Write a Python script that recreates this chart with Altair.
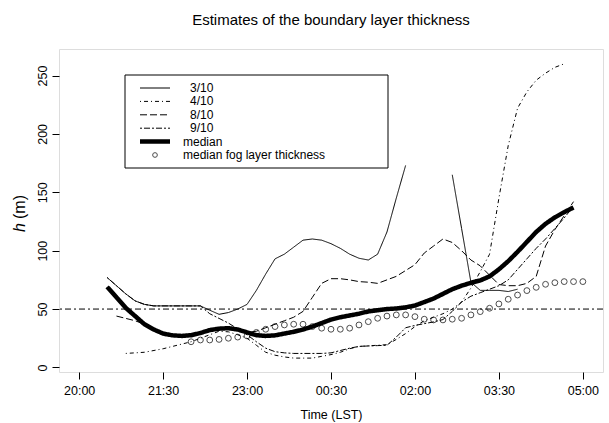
import json
import altair as alt
import pandas as pd

# ---------------- data ----------------
title_text = "Estimates of the boundary layer thickness"
x_title = "Time (LST)"
tick_values = [20, 21.5, 23, 24.5, 26, 27.5, 29]
tick_labels = ["20:00", "21:30", "23:00", "00:30", "02:00", "03:30", "05:00"]
y_ticks = [0, 50, 100, 150, 200, 250]
ref_level = 50
legend_labels = ["3/10", "4/10", "8/10", "9/10", "median", "median fog layer thickness"]

t_3_10_a = ["20:30", "20:40", "20:50", "21:00", "21:10", "21:20", "22:10", "22:20", "22:30", "22:40",
            "22:50", "23:00", "23:10", "23:20", "23:30", "23:40", "23:50", "00:00", "00:10", "00:20",
            "00:30", "00:40", "00:50", "01:00", "01:10", "01:20", "01:30", "01:40", "01:50"]
v_3_10_a = [77, 70, 63, 57, 54, 52.7, 52.7, 49, 45.5, 47,
            50, 54, 66, 80, 93, 97, 103, 109, 110, 109,
            106, 102, 97, 93.5, 92, 97, 116, 145, 173]
t_3_10_b = ["02:40", "02:50", "03:00", "03:10", "03:20", "03:30", "03:40", "03:50"]
v_3_10_b = [165, 119, 73, 66, 66, 66, 65, 67]

t_4_10 = ["20:50", "21:10", "21:30", "21:40", "21:50", "22:00", "22:10", "22:20", "22:30", "22:40",
          "22:50", "23:00", "23:10", "23:20", "23:30", "23:40", "23:50", "00:00", "00:10", "00:20",
          "00:30", "00:40", "00:50", "01:00", "01:10", "01:20", "01:30", "01:40", "01:50", "02:00",
          "02:10", "02:20", "02:30", "02:40", "02:50", "03:00", "03:10", "03:20", "03:30", "03:40",
          "03:50", "04:00", "04:10", "04:20", "04:30", "04:40"]
v_4_10 = [12, 13, 16, 18, 20, 22, 25, 28, 31, 30.5,
          28, 25, 19, 13, 10.5, 9, 8, 8, 8, 9.5,
          11, 13, 16, 18, 18.5, 19, 19.5, 24, 29, 35,
          40, 43, 46, 50, 56, 68, 82, 97, 145, 190,
          222, 236, 246, 252, 257, 260]

t_8_10 = ["20:40", "20:50", "21:00", "21:10", "21:20", "21:30", "21:40", "21:50", "22:00", "22:10",
          "22:20", "22:30", "22:40", "22:50", "23:00", "23:10", "23:20", "23:30", "23:40", "23:50",
          "00:00", "00:10", "00:20", "00:30", "00:40", "00:50", "01:00", "01:10", "01:20", "01:30",
          "01:40", "01:50", "02:00", "02:10", "02:20", "02:30", "02:40", "02:50", "03:00", "03:10",
          "03:20", "03:30", "03:40", "03:50", "04:00", "04:10", "04:20", "04:30", "04:40", "04:50"]
v_8_10 = [44, 42, 40, 37, 32.5, 29, 27.5, 27, 27.6, 29.5,
          32, 33.2, 33.6, 32.5, 30, 31, 34, 37, 40, 43,
          48, 60, 72, 76, 76, 75, 73.5, 73, 72, 75,
          78, 83, 88, 98, 104, 110, 107, 100, 92, 87,
          79, 71, 70, 70, 72, 78, 104, 118, 130, 142]

t_9_10 = ["20:30", "20:40", "20:50", "21:00", "21:10", "21:20", "22:10", "22:20", "22:30", "22:40",
          "22:50", "23:00", "23:10", "23:20", "23:30", "23:40", "23:50", "00:00", "00:10", "00:20",
          "00:30", "00:40", "00:50", "01:00", "01:10", "01:20", "01:30", "01:40", "01:50", "02:00",
          "02:10", "02:20", "02:30", "02:40", "02:50", "03:00", "03:10", "03:20", "03:30", "03:40",
          "03:50", "04:00", "04:10", "04:20", "04:30", "04:40", "04:50"]
v_9_10 = [77, 70, 63, 57, 54, 52.7, 52.7, 46, 42, 38,
          33, 28, 22, 16.5, 13.5, 12.5, 12, 12, 12, 12,
          12.5, 14.5, 16.5, 18, 18.4, 18.7, 19, 26, 34, 36,
          37.5, 39, 41, 48, 56, 61, 64, 67, 70, 75,
          84, 93, 102, 110, 119, 128, 138]

t_median = ["20:30", "20:40", "20:50", "21:00", "21:10", "21:20", "21:30", "21:40", "21:50", "22:00",
            "22:10", "22:20", "22:30", "22:40", "22:50", "23:00", "23:10", "23:20", "23:30", "23:40",
            "23:50", "00:00", "00:10", "00:20", "00:30", "00:40", "00:50", "01:00", "01:10", "01:20",
            "01:30", "01:40", "01:50", "02:00", "02:10", "02:20", "02:30", "02:40", "02:50", "03:00",
            "03:10", "03:20", "03:30", "03:40", "03:50", "04:00", "04:10", "04:20", "04:30", "04:40",
            "04:50"]
v_median = [69, 60, 51, 44, 37, 32.5, 29, 27.5, 27, 27.6,
            29.5, 32, 33.2, 33.6, 32.5, 30, 27.6, 27, 27.5, 29,
            30.5, 32.5, 35, 38, 41, 43, 44.5, 46, 48, 49,
            50, 50.5, 51.5, 53, 56, 59, 63, 67, 70, 72.5,
            74.5, 78, 84, 91, 99, 107.5, 116, 123, 128.5, 133,
            137]

t_fog = ["22:00", "22:10", "22:20", "22:30", "22:40", "22:50", "23:00", "23:10", "23:20", "23:30",
         "23:40", "23:50", "00:00", "00:10", "00:20", "00:30", "00:40", "00:50", "01:00", "01:10",
         "01:20", "01:30", "01:40", "01:50", "02:00", "02:10", "02:20", "02:30", "02:40", "02:50",
         "03:00", "03:10", "03:20", "03:30", "03:40", "03:50", "04:00", "04:10", "04:20", "04:30",
         "04:40", "04:50", "05:00"]
v_fog = [22, 23.5, 23.5, 24, 25, 26, 27, 30, 32.7, 35,
         36.4, 37, 37, 35, 33.6, 32.7, 32.7, 33.6, 36.4, 39.2,
         42.1, 44, 45, 45, 43.5, 41.3, 40.7, 40.7, 41.3, 42.1,
         45, 47.8, 50.7, 54.4, 58.4, 62, 65.8, 68.6, 71.2, 72.6,
         73.5, 73.5, 73.5]

# ---------------- helpers ----------------
def to_hours(s):
    h, m = map(int, s.split(":"))
    if h < 12:
        h += 24
    return h + m / 60.0


def frame(times, values):
    return pd.DataFrame({"t": [to_hours(s) for s in times], "v": values})


FONT = "Liberation Sans"
W, H = 544, 323

x_scale = alt.Scale(domain=[19.64, 29.36], nice=False, zero=False)
y_scale = alt.Scale(domain=[-3.9, 272.7], nice=False, zero=False)

label_expr = f"{json.dumps(tick_labels)}[indexof({json.dumps(tick_values)}, datum.value)]"

x_axis = alt.Axis(values=tick_values, labelExpr=label_expr, title=x_title, grid=False, domain=False,
                  tickSize=7, tickColor="black", labelPadding=5, labelFontSize=12.5, labelColor="black",
                  labelFont=FONT, labelFlush=False, labelOverlap=False, titleFont=FONT,
                  titleFontSize=12.5, titleFontWeight="normal", titleColor="black", titlePadding=12)
y_axis = alt.Axis(values=y_ticks, title=None, grid=False, domain=False, tickSize=7, tickColor="black",
                  labelAngle=270, labelAlign="center", labelBaseline="alphabetic", labelPadding=6,
                  labelFontSize=12.5, labelColor="black", labelFont=FONT, labelOverlap=False)

X = alt.X("t:Q", scale=x_scale, axis=x_axis)
Y = alt.Y("v:Q", scale=y_scale, axis=y_axis)

styles = {
    "3/10": dict(strokeDash=[1, 0], strokeWidth=1),
    "4/10": dict(strokeDash=[1, 3, 4, 3], strokeWidth=1),
    "8/10": dict(strokeDash=[7, 3], strokeWidth=1),
    "9/10": dict(strokeDash=[2, 2, 6, 2], strokeWidth=1),
    "median": dict(strokeDash=[1, 0], strokeWidth=4.5),
}


def line_layer(df, key):
    return alt.Chart(df).mark_line(color="black", clip=True, **styles[key]).encode(
        x=X, y=Y, order="t:Q")


layers = [
    line_layer(frame(t_4_10, v_4_10), "4/10"),
    line_layer(frame(t_8_10, v_8_10), "8/10"),
    line_layer(frame(t_9_10, v_9_10), "9/10"),
    line_layer(frame(t_3_10_a, v_3_10_a), "3/10"),
    line_layer(frame(t_3_10_b, v_3_10_b), "3/10"),
    line_layer(frame(t_median, v_median), "median"),
    alt.Chart(pd.DataFrame({"v": [ref_level]})).mark_rule(
        color="black", strokeWidth=1, strokeDash=[6, 3, 2, 3]).encode(y=Y),
    alt.Chart(frame(t_fog, v_fog)).mark_point(
        shape="circle", filled=False, color="black", size=34, strokeWidth=1, clip=True).encode(x=X, y=Y),
]

# ---------------- legend (drawn inside the plot) ----------------
one = pd.DataFrame({"a": [0]})
box = dict(x0=66, x1=329, y0=26, y1=119)
row0, row_step = 39, 13.4
layers.append(alt.Chart(one).mark_rect(fillOpacity=0, stroke="black", strokeWidth=1).encode(
    x=alt.value(box["x0"]), x2=alt.value(box["x1"]), y=alt.value(box["y0"]), y2=alt.value(box["y1"])))
for i, lab in enumerate(legend_labels):
    ly = row0 + i * row_step
    if lab in styles:
        layers.append(alt.Chart(one).mark_rule(color="black", **styles[lab]).encode(
            x=alt.value(81), x2=alt.value(111), y=alt.value(ly)))
    else:
        layers.append(alt.Chart(one).mark_point(
            shape="circle", filled=False, color="black", size=22, strokeWidth=1).encode(
            x=alt.value(96), y=alt.value(ly)))
    tx = 131 if "/" in lab else 124
    layers.append(alt.Chart(one).mark_text(
        text=lab, align="left", baseline="middle", font=FONT, fontSize=12, color="black").encode(
        x=alt.value(tx), y=alt.value(ly)))

# y-axis title: italic h, upright (m)
layers.append(alt.Chart(one).mark_text(
    text="h", angle=270, align="center", baseline="middle", font=FONT, fontSize=16,
    fontStyle="italic", color="black").encode(x=alt.value(-39), y=alt.value(178.5)))
layers.append(alt.Chart(one).mark_text(
    text="(m)", angle=270, align="center", baseline="middle", font=FONT, fontSize=16,
    color="black").encode(x=alt.value(-39), y=alt.value(158)))

chart = alt.layer(*layers).properties(
    width=W, height=H,
    title=alt.TitleParams(title_text, font=FONT, fontSize=15, fontWeight="normal", color="black",
                          anchor="middle", baseline="alphabetic", offset=9),
    autosize=alt.AutoSizeParams(type="none"),
    padding={"left": 59, "top": 49, "right": 6, "bottom": 51},
).configure_view(stroke="black", strokeWidth=1).configure(background="white")

chart.save("out.html", embed_options={"renderer": "svg", "actions": False})
